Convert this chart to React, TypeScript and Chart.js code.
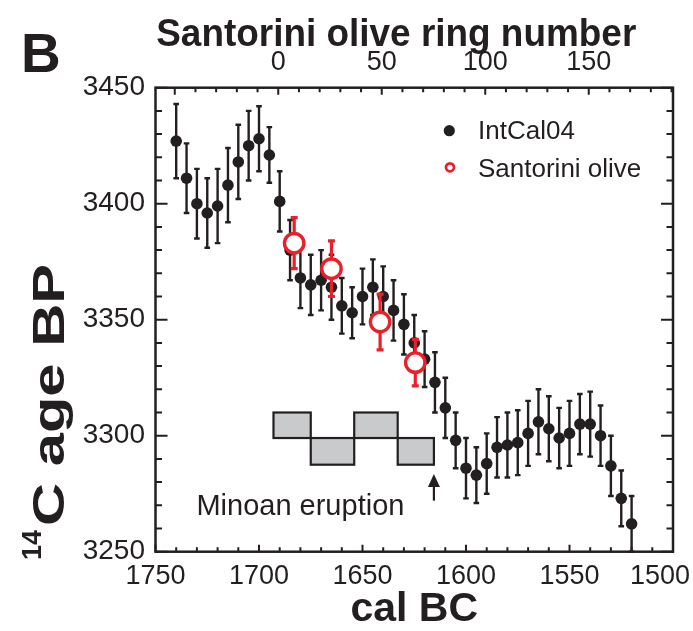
import React, { useEffect, useRef } from 'react';
import { Chart, registerables } from 'chart.js';

Chart.register(...registerables);

// ---------------- data ----------------
const intcalYears = [1740, 1735, 1730, 1725, 1720, 1715, 1710, 1705, 1700, 1695, 1690, 1685, 1680, 1675, 1670, 1665, 1660, 1655, 1650, 1645, 1640, 1635, 1630, 1625, 1620, 1615, 1610, 1605, 1600, 1595, 1590, 1585, 1580, 1575, 1570, 1565, 1560, 1555, 1550, 1545, 1540, 1535, 1530, 1525, 1520];
const intcalAges = [3427, 3411, 3400, 3396, 3399, 3408, 3418, 3425, 3428, 3421, 3401, 3380, 3368, 3365, 3367, 3364, 3356, 3353, 3360, 3364, 3360, 3354, 3348, 3340, 3333, 3323, 3312, 3298, 3286, 3283, 3288, 3295, 3296, 3297, 3301, 3306, 3303, 3299, 3301, 3305, 3305, 3300, 3287, 3273, 3262];
const intcalErrors = [16, 15, 15, 15, 16, 16, 16, 15, 14, 12, 13, 13, 13, 13, 13, 14, 12, 11, 12, 12, 13, 13, 13, 12, 12, 13, 13, 12, 13, 12, 13, 13, 14, 14, 14, 14, 14, 13, 14, 13, 14, 13, 13, 12, 12];

const oliveYears = [1683, 1665, 1641.5, 1624.5];
const oliveAges = [3383, 3372, 3349, 3331.5];
const oliveErrors = [11, 12, 12, 10];

const xTickValues = [1750, 1700, 1650, 1600, 1550, 1500];
const yTickValues = [3250, 3300, 3350, 3400, 3450];
const ringTickValues = [0, 50, 100, 150];
const ringZeroYear = 1690.7; // cal BC year of olive ring 0

const boxStartYears = [1693, 1675, 1654, 1633];
const boxEndYears = [1675, 1654, 1633, 1615.5];
const boxLowAges = [3299, 3287.5, 3299, 3287.5];
const boxHighAges = [3310, 3299, 3310, 3299];
const eruptionYear = 1615.5;
const arrowFromAge = 3272;
const arrowToAge = 3283.5;

// ---------------- style ----------------
const BLACK = '#231f20';
const RED = '#e8202a';
const GRAY = '#c9cacc';
const FONT = '"Liberation Sans", Arial, Helvetica, sans-serif';

const errorBarPlugin = {
  id: 'errorBars',
  beforeDatasetDraw(chart: any, args: any) {
    const ds = chart.data.datasets[args.index];
    const errs: number[] = ds.errors;
    if (!errs) return;
    const { ctx } = chart;
    const xs = chart.scales.x;
    const ys = chart.scales.y;
    ctx.save();
    ctx.strokeStyle = ds.errColor;
    ctx.lineWidth = ds.errWidth;
    ctx.lineCap = 'butt';
    ds.data.forEach((p: any, i: number) => {
      const px = xs.getPixelForValue(p.x);
      const y1 = ys.getPixelForValue(p.y + errs[i]);
      const y2 = ys.getPixelForValue(p.y - errs[i]);
      ctx.beginPath();
      ctx.moveTo(px, y1);
      ctx.lineTo(px, y2);
      ctx.stroke();
      ctx.beginPath();
      ctx.moveTo(px - ds.capHalf, y1);
      ctx.lineTo(px + ds.capHalf, y1);
      ctx.moveTo(px - ds.capHalf, y2);
      ctx.lineTo(px + ds.capHalf, y2);
      ctx.stroke();
    });
    ctx.restore();
  },
};

const annotationPlugin = {
  id: 'annotations',
  beforeDatasetsDraw(chart: any) {
    const { ctx } = chart;
    const xs = chart.scales.x;
    const ys = chart.scales.y;
    ctx.save();
    ctx.lineWidth = 2.2;
    ctx.strokeStyle = BLACK;
    ctx.fillStyle = GRAY;
    boxStartYears.forEach((s, i) => {
      const x1 = xs.getPixelForValue(s);
      const x2 = xs.getPixelForValue(boxEndYears[i]);
      const y1 = ys.getPixelForValue(boxHighAges[i]);
      const y2 = ys.getPixelForValue(boxLowAges[i]);
      ctx.fillRect(x1, y1, x2 - x1, y2 - y1);
      ctx.strokeRect(x1, y1, x2 - x1, y2 - y1);
    });
    // arrow
    const ax = xs.getPixelForValue(eruptionYear);
    const ay1 = ys.getPixelForValue(arrowFromAge);
    const ay2 = ys.getPixelForValue(arrowToAge);
    ctx.lineWidth = 2.2;
    ctx.beginPath();
    ctx.moveTo(ax, ay1);
    ctx.lineTo(ax, ay2 + 8);
    ctx.stroke();
    ctx.fillStyle = BLACK;
    ctx.beginPath();
    ctx.moveTo(ax, ay2);
    ctx.lineTo(ax - 6, ay2 + 13);
    ctx.lineTo(ax + 6, ay2 + 13);
    ctx.closePath();
    ctx.fill();
    // label
    ctx.font = `29px ${FONT}`;
    ctx.textAlign = 'center';
    ctx.textBaseline = 'alphabetic';
    ctx.fillStyle = BLACK;
    ctx.fillText('Minoan eruption', xs.getPixelForValue(1680), ys.getPixelForValue(3266), 212);
    ctx.restore();
  },
};

const framePlugin = {
  id: 'frame',
  afterDraw(chart: any) {
    const { ctx, chartArea: a } = chart;
    const xs = chart.scales.x;
    const x2 = chart.scales.x2;
    const ys = chart.scales.y;
    ctx.save();
    ctx.strokeStyle = BLACK;
    ctx.lineWidth = 2;
    // inner ticks
    ctx.beginPath();
    for (let v = 1750; v >= 1500; v -= 10) {
      const px = xs.getPixelForValue(v);
      const len = v % 50 === 0 ? 7 : 4.5;
      ctx.moveTo(px, a.bottom);
      ctx.lineTo(px, a.bottom - len);
    }
    for (let r = -50; r <= 190; r += 10) {
      const px = x2.getPixelForValue(r);
      const len = r % 50 === 0 ? 7 : 4.5;
      ctx.moveTo(px, a.top);
      ctx.lineTo(px, a.top + len);
    }
    for (let v = 3250; v <= 3450; v += 10) {
      const py = ys.getPixelForValue(v);
      const len = v % 50 === 0 ? 12 : 6.5;
      ctx.moveTo(a.left, py);
      ctx.lineTo(a.left + len, py);
      ctx.moveTo(a.right, py);
      ctx.lineTo(a.right - len, py);
    }
    ctx.stroke();
    // frame
    ctx.lineWidth = 2.5;
    ctx.strokeRect(a.left, a.top, a.right - a.left, a.bottom - a.top);

    ctx.fillStyle = BLACK;
    // last bottom tick label kept inside the picture
    ctx.font = `27px ${FONT}`;
    ctx.textAlign = 'right';
    ctx.textBaseline = 'middle';
    ctx.fillText('1500', 690, a.bottom + 9 + 16.2);

    // titles
    ctx.textBaseline = 'alphabetic';
    ctx.textAlign = 'center';
    ctx.font = `bold 38px ${FONT}`;
    ctx.fillText('Santorini olive ring number', (a.left + a.right) / 2 - 18, 46, 480);
    ctx.font = `bold 41px ${FONT}`;
    ctx.fillText('cal BC', (a.left + a.right) / 2, 621);
    ctx.textAlign = 'left';
    ctx.font = `bold 55px ${FONT}`;
    ctx.fillText('B', 21, 72);

    // rotated y title with superscript
    ctx.save();
    ctx.translate(64, 560);
    ctx.rotate(-Math.PI / 2);
    ctx.textAlign = 'left';
    ctx.font = `bold 27px ${FONT}`;
    ctx.fillText('14', 0, -23);
    const w14 = ctx.measureText('14').width;
    ctx.font = `bold 44px ${FONT}`;
    const label = 'C age BP';
    const wl = ctx.measureText(label).width;
    const target = 262;
    ctx.translate(w14 + 4, 0);
    ctx.scale(target / wl, 1);
    ctx.fillText(label, 0, 0);
    ctx.restore();

    // legend
    ctx.beginPath();
    ctx.fillStyle = BLACK;
    ctx.arc(449.3, 130.7, 5.6, 0, Math.PI * 2);
    ctx.fill();
    ctx.beginPath();
    ctx.strokeStyle = RED;
    ctx.lineWidth = 2.8;
    ctx.fillStyle = '#fff';
    ctx.arc(450, 167.3, 4, 0, Math.PI * 2);
    ctx.fill();
    ctx.stroke();
    ctx.fillStyle = BLACK;
    ctx.font = `26px ${FONT}`;
    ctx.textAlign = 'left';
    ctx.fillText('IntCal04', 478, 138.5);
    ctx.fillText('Santorini olive', 478, 176.5);
    ctx.restore();
  },
};

export default function App() {
  const ref = useRef<HTMLCanvasElement>(null);
  useEffect(() => {
    const canvas = ref.current;
    if (!canvas) return;
    const chart = new Chart(canvas, {
      type: 'scatter',
      data: {
        datasets: [
          {
            label: 'IntCal04',
            data: intcalYears.map((x, i) => ({ x, y: intcalAges[i] })),
            pointRadius: 5.8,
            pointBackgroundColor: BLACK,
            pointBorderWidth: 0,
            pointBorderColor: BLACK,
            order: 2,
            errors: intcalErrors,
            errColor: BLACK,
            errWidth: 2.4,
            capHalf: 2.8,
          } as any,
          {
            label: 'Santorini olive',
            data: oliveYears.map((x, i) => ({ x, y: oliveAges[i] })),
            pointRadius: 9.7,
            pointBackgroundColor: '#ffffff',
            pointBorderWidth: 3.4,
            pointBorderColor: RED,
            order: 1,
            errors: oliveErrors,
            errColor: RED,
            errWidth: 3.2,
            capHalf: 3.5,
          } as any,
        ],
      },
      options: {
        animation: false,
        responsive: false,
        devicePixelRatio: 1,
        layout: { padding: { left: 0, right: 20, top: 0, bottom: 0 } },
        plugins: { legend: { display: false }, tooltip: { enabled: false } },
        scales: {
          x: {
            type: 'linear',
            position: 'bottom',
            reverse: true,
            min: 1500,
            max: 1750,
            afterBuildTicks: (s: any) => {
              s.ticks = xTickValues.map((v) => ({ value: v }));
            },
            afterFit: (s: any) => {
              s.height = 631 - 551.7;
            },
            ticks: {
              font: { family: FONT, size: 27 },
              color: BLACK,
              padding: 9,
              maxRotation: 0,
              autoSkip: false,
              callback: (v: any) => (v === 1500 ? '' : String(v)),
            },
            grid: { display: false, drawTicks: false },
            border: { display: false },
          },
          x2: {
            type: 'linear',
            position: 'top',
            min: ringZeroYear - 1750,
            max: ringZeroYear - 1500,
            afterBuildTicks: (s: any) => {
              s.ticks = ringTickValues.map((v) => ({ value: v }));
            },
            afterFit: (s: any) => {
              s.height = 87.7;
            },
            ticks: {
              font: { family: FONT, size: 27 },
              color: BLACK,
              padding: 9,
              maxRotation: 0,
              autoSkip: false,
              callback: (v: any) => String(v),
            },
            grid: { display: false, drawTicks: false },
            border: { display: false },
          },
          y: {
            type: 'linear',
            position: 'left',
            min: 3250,
            max: 3450,
            afterBuildTicks: (s: any) => {
              s.ticks = yTickValues.map((v) => ({ value: v }));
            },
            afterFit: (s: any) => {
              s.width = 155.5;
            },
            ticks: {
              font: { family: FONT, size: 28 },
              color: BLACK,
              padding: 10.5,
              callback: (v: any) => String(v),
            },
            grid: { display: false, drawTicks: false },
            border: { display: false },
          },
        },
      } as any,
      plugins: [errorBarPlugin, annotationPlugin, framePlugin],
    });
    return () => chart.destroy();
  }, []);
  return (
    <div style={{ position: 'absolute', left: 0, top: 0, width: 693, height: 631, background: '#fff' }}>
      <canvas ref={ref} width={693} height={631} style={{ display: 'block', width: 693, height: 631 }} />
    </div>
  );
}
